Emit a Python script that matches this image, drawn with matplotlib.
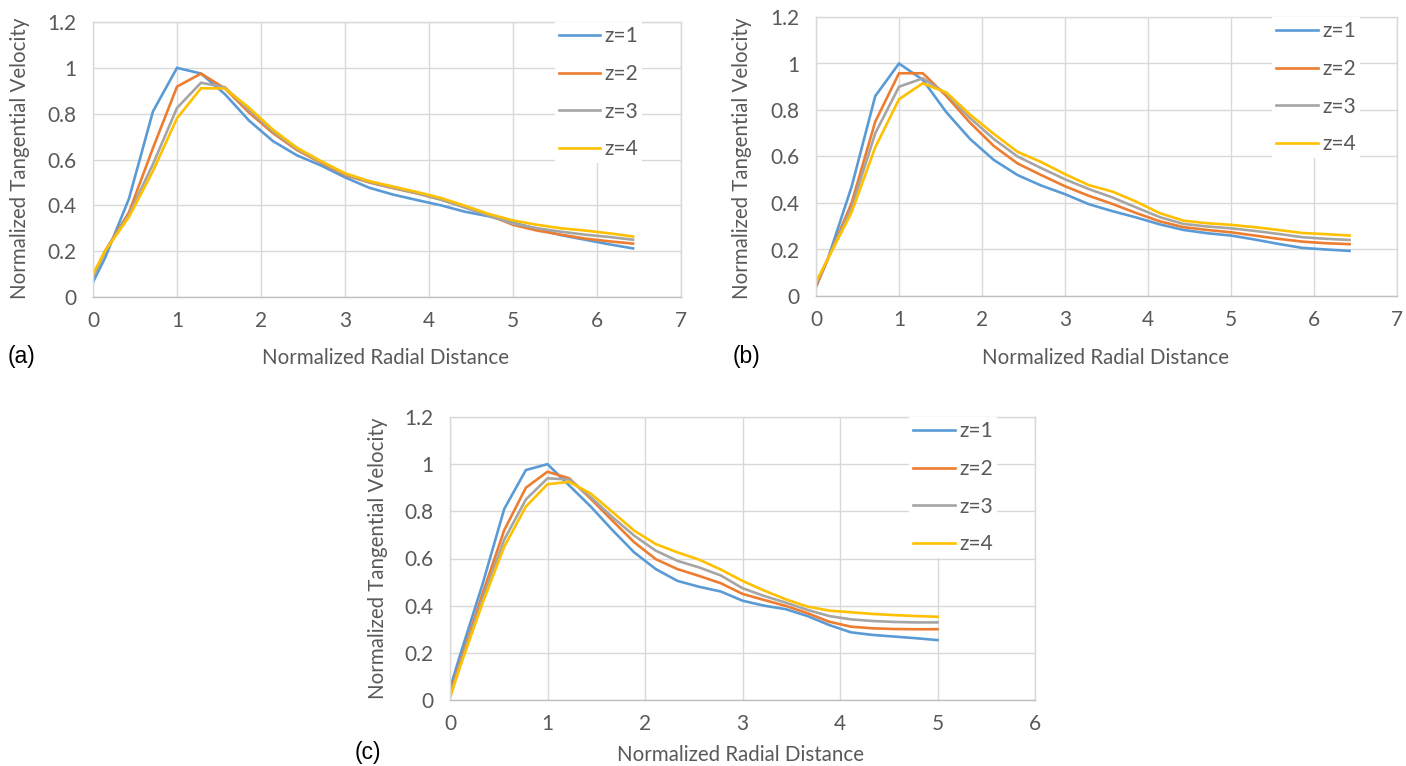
import matplotlib
matplotlib.use('Agg')
import matplotlib.pyplot as plt

# ---------------- data ----------------
x_ab = [0, 0.143, 0.429, 0.714, 1.0, 1.286, 1.571, 1.857, 2.143, 2.429, 2.714, 3.0,
        3.286, 3.571, 3.857, 4.143, 4.429, 4.714, 5.0, 5.286, 5.571, 5.857, 6.143, 6.429]
x_c = [0, 0.111, 0.333, 0.556, 0.778, 1.0, 1.222, 1.444, 1.667, 1.889, 2.111, 2.333,
       2.556, 2.778, 3.0, 3.222, 3.444, 3.667, 3.889, 4.111, 4.333, 4.556, 4.778, 5.0]

a_z1 = [0.065, 0.17, 0.43, 0.81, 1.0, 0.975, 0.885, 0.77, 0.68, 0.618, 0.574, 0.522,
        0.477, 0.447, 0.423, 0.400, 0.372, 0.352, 0.325, 0.297, 0.27, 0.25, 0.23, 0.212]
a_z2 = [0.09, 0.2, 0.37, 0.65, 0.918, 0.975, 0.91, 0.805, 0.715, 0.641, 0.586, 0.532,
        0.5, 0.475, 0.452, 0.425, 0.392, 0.357, 0.315, 0.29, 0.272, 0.255, 0.243, 0.233]
a_z3 = [0.09, 0.2, 0.36, 0.58, 0.825, 0.935, 0.915, 0.815, 0.722, 0.645, 0.59, 0.535,
        0.502, 0.477, 0.453, 0.425, 0.39, 0.355, 0.32, 0.3, 0.285, 0.272, 0.262, 0.25]
a_z4 = [0.10, 0.2, 0.35, 0.55, 0.78, 0.911, 0.91, 0.826, 0.73, 0.651, 0.593, 0.54,
        0.506, 0.482, 0.458, 0.432, 0.398, 0.362, 0.334, 0.315, 0.3, 0.29, 0.278, 0.264]

b_z1 = [0.04, 0.16, 0.47, 0.86, 1.0, 0.93, 0.79, 0.675, 0.585, 0.52, 0.475, 0.438,
        0.395, 0.365, 0.338, 0.308, 0.284, 0.27, 0.26, 0.243, 0.224, 0.207, 0.2, 0.194]
b_z2 = [0.04, 0.16, 0.40, 0.75, 0.958, 0.958, 0.86, 0.745, 0.645, 0.57, 0.52, 0.472,
        0.431, 0.396, 0.357, 0.321, 0.296, 0.284, 0.274, 0.26, 0.246, 0.234, 0.227, 0.223]
b_z3 = [0.05, 0.16, 0.38, 0.70, 0.90, 0.936, 0.87, 0.765, 0.675, 0.60, 0.55, 0.502,
        0.46, 0.424, 0.381, 0.339, 0.31, 0.299, 0.291, 0.28, 0.267, 0.253, 0.246, 0.241]
b_z4 = [0.06, 0.16, 0.36, 0.64, 0.846, 0.915, 0.875, 0.78, 0.697, 0.62, 0.576, 0.524,
        0.477, 0.449, 0.406, 0.356, 0.324, 0.313, 0.306, 0.296, 0.284, 0.271, 0.266, 0.26]

c_z1 = [0.05, 0.2, 0.49, 0.81, 0.975, 1.0, 0.91, 0.82, 0.72, 0.626, 0.555, 0.505,
        0.48, 0.46, 0.421, 0.4, 0.385, 0.356, 0.318, 0.287, 0.276, 0.269, 0.262, 0.254]
c_z2 = [0.03, 0.17, 0.45, 0.72, 0.90, 0.968, 0.94, 0.853, 0.76, 0.669, 0.597, 0.555,
        0.526, 0.495, 0.45, 0.424, 0.399, 0.368, 0.332, 0.311, 0.304, 0.301, 0.3, 0.3]
c_z3 = [0.02, 0.16, 0.43, 0.68, 0.85, 0.94, 0.935, 0.86, 0.775, 0.697, 0.633, 0.59,
        0.562, 0.528, 0.474, 0.441, 0.413, 0.382, 0.356, 0.342, 0.335, 0.331, 0.329, 0.329]
c_z4 = [0.01, 0.15, 0.41, 0.65, 0.82, 0.915, 0.925, 0.875, 0.797, 0.718, 0.661, 0.626,
        0.595, 0.553, 0.505, 0.464, 0.427, 0.396, 0.379, 0.372, 0.365, 0.36, 0.356, 0.353]

series_labels = ['z=1', 'z=2', 'z=3', 'z=4']
y_ticks = [0, 0.2, 0.4, 0.6, 0.8, 1.0, 1.2]
y_ticklabels = ['0', '0.2', '0.4', '0.6', '0.8', '1', '1.2']
x_ticks_ab = [0, 1, 2, 3, 4, 5, 6, 7]
x_ticks_c = [0, 1, 2, 3, 4, 5, 6]
xlabel = 'Normalized Radial Distance'
ylabel = 'Normalized Tangential Velocity'

# ---------------- style ----------------
colors = ['#5B9BD5', '#ED7D31', '#A5A5A5', '#FFC000']
txt_col = '#595959'
grid_col = '#D9D9D9'
FONT = 'Lato'
TICK_FS = 15
LAB_FS = 14.8

W, H = 1406, 766
fig = plt.figure(figsize=(W / 100, H / 100), dpi=100)


def axrect(l, t, r, b):
    return [l / W, 1 - b / H, (r - l) / W, (b - t) / H]


def panel(rect, x, ys, xticks, xmax, tag, tag_xy, xl_xy, yl_xy):
    ax = fig.add_axes(rect)
    for y, c, lab in zip(ys, colors, series_labels):
        ax.plot(x, y, color=c, lw=1.9, label=lab, solid_joinstyle='miter')
    ax.set_xlim(0, xmax)
    ax.set_ylim(0, 1.2)
    ax.set_xticks(xticks)
    ax.set_xticklabels([str(v) for v in xticks])
    ax.set_yticks(y_ticks)
    ax.set_yticklabels(y_ticklabels)
    ax.grid(True, color=grid_col, lw=1.0)
    ax.set_axisbelow(True)
    for s in ['top', 'right', 'left']:
        ax.spines[s].set_color(grid_col)
        ax.spines[s].set_linewidth(1.0)
    ax.spines['bottom'].set_color('#BFBFBF')
    ax.spines['bottom'].set_linewidth(1.0)
    ax.tick_params(axis='x', length=0, pad=10, labelsize=TICK_FS, labelcolor=txt_col)
    ax.tick_params(axis='y', length=0, pad=12, labelsize=TICK_FS, labelcolor=txt_col)
    for t in ax.get_xticklabels() + ax.get_yticklabels():
        t.set_fontfamily(FONT)
    leg = ax.legend(loc='upper left', bbox_to_anchor=(0.785, 1.0), frameon=True,
                    fancybox=False, edgecolor='none', facecolor='white', framealpha=1,
                    prop={'family': FONT, 'size': TICK_FS}, labelspacing=0.85,
                    handlelength=2.0, handletextpad=0.2, borderpad=0.2,
                    borderaxespad=0.0)
    for t in leg.get_texts():
        t.set_color(txt_col)
    fig.text(tag_xy[0] / W, 1 - tag_xy[1] / H, tag, fontsize=16.5,
             family='Liberation Sans', ha='left', va='center', color='black')
    fig.text(xl_xy[0] / W, 1 - xl_xy[1] / H, xlabel, fontsize=LAB_FS, family=FONT,
             ha='center', va='center', color=txt_col)
    fig.text(yl_xy[0] / W, 1 - yl_xy[1] / H, ylabel, fontsize=LAB_FS, family=FONT,
             ha='center', va='center', rotation=90, color=txt_col)
    return ax


panel(axrect(93, 22, 681, 297), x_ab, [a_z1, a_z2, a_z3, a_z4], x_ticks_ab, 7,
      '(a)', (8, 356), (386, 358), (20, 158))
panel(axrect(816, 17, 1397, 296), x_ab, [b_z1, b_z2, b_z3, b_z4], x_ticks_ab, 7,
      '(b)', (733, 356), (1106, 358), (742, 158))
panel(axrect(450, 417, 1035, 700), x_c, [c_z1, c_z2, c_z3, c_z4], x_ticks_c, 6,
      '(c)', (355, 752), (741, 755), (378, 558))

fig.savefig('out.png', dpi=100, facecolor='white')
